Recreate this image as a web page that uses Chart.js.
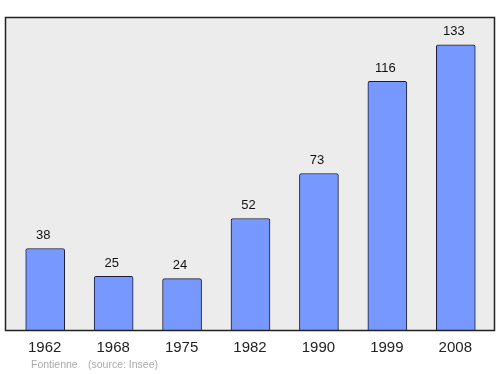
<!DOCTYPE html>
<html><head>
<meta charset="UTF-8">
<title>Population</title>
<script src="https://cdn.jsdelivr.net/npm/chart.js"></script>
<style>
  html, body { margin: 0; padding: 0; background: #fff; }
  #wrap { width: 500px; height: 374px; }
</style>
</head><body>
<div id="wrap"><canvas id="c" width="500" height="374"></canvas></div>
<script>
const years = ['1962', '1968', '1975', '1982', '1990', '1999', '2008'];
const population = [38, 25, 24, 52, 73, 116, 133];
const footerName = 'Fontienne';
const footerSource = '(source: Insee)';

// gray frame behind the bars, a bit wider than the category axis
const framePlugin = {
  id: 'frame',
  beforeDatasetsDraw(chart) {
    const { ctx, chartArea: a } = chart;
    ctx.save();
    ctx.fillStyle = '#ececec';
    ctx.fillRect(5, a.top, 490, a.bottom - a.top);
    ctx.restore();
  },
  afterDatasetsDraw(chart) {
    const { ctx, chartArea: a, scales } = chart;
    ctx.save();
    ctx.strokeStyle = '#222';
    ctx.lineWidth = 1.5;
    ctx.strokeRect(5.5, a.top + 0.5, 489, a.bottom - a.top);

    // values above bars
    ctx.fillStyle = '#111';
    ctx.font = '13px "Liberation Sans", Arial, sans-serif';
    ctx.textAlign = 'center';
    ctx.textBaseline = 'middle';
    const meta = chart.getDatasetMeta(0);
    meta.data.forEach((bar, i) => {
      ctx.fillText(String(population[i]), bar.x - 2, bar.y - 13);
    });

    // year labels
    ctx.fillStyle = '#222';
    ctx.font = '15px "Liberation Sans", Arial, sans-serif';
    years.forEach((y, i) => {
      ctx.fillText(y, scales.x.getPixelForValue(i) - 0.5, a.bottom + 18);
    });

    // footer
    ctx.fillStyle = '#aaa';
    ctx.font = '10.5px "Liberation Sans", Arial, sans-serif';
    ctx.textAlign = 'left';
    ctx.fillText(footerName, 31, 365.5);
    ctx.fillText(footerSource, 88, 365.5);
    ctx.restore();
  }
};

new Chart(document.getElementById('c'), {
  type: 'bar',
  data: {
    labels: years,
    datasets: [{
      data: population,
      backgroundColor: '#7799ff',
      borderColor: '#1a1a33',
      borderWidth: 1,
      borderRadius: 2,
      borderSkipped: 'bottom',
      barThickness: 39
    }]
  },
  options: {
    responsive: false,
    animation: false,
    layout: { padding: { left: 11, right: 10, top: 17, bottom: 44 } },
    plugins: { legend: { display: false }, tooltip: { enabled: false } },
    scales: {
      x: { display: false },
      y: { display: false, min: 0, max: 146 }
    }
  },
  plugins: [framePlugin]
});
</script>
</body></html>
